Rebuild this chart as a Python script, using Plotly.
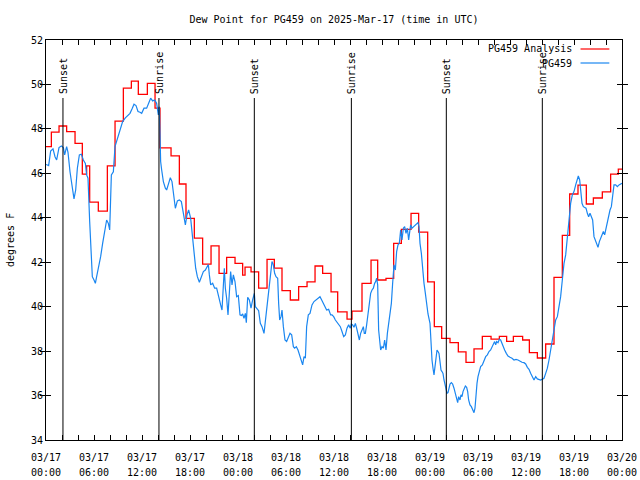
import plotly.graph_objects as go

# ---------------- data (hours since 03/17 00:00 UTC) ----------------
red_t = [0.0, 0.67, 1.63, 2.58, 3.63, 4.54, 5.08, 5.46, 6.54, 7.67, 8.63, 9.67, 10.67, 11.54,
         12.67, 13.63, 14.25, 15.63, 16.67, 17.5, 18.54, 19.58, 20.63, 21.63, 22.58, 23.63,
         24.58, 24.88, 25.63, 26.58, 27.63, 28.54, 29.5, 30.54, 31.58, 32.63, 33.63, 34.58,
         35.63, 36.46, 37.63, 38.25, 39.5, 40.63, 41.46, 42.5, 43.46, 44.42, 45.63, 46.58,
         47.71, 48.54, 49.46, 50.5, 51.54, 52.5, 53.5, 54.54, 55.63, 56.67, 57.58, 58.42,
         59.58, 60.42, 61.42, 62.46, 63.5, 64.54, 65.46, 66.5, 67.54, 68.42, 69.54, 70.58,
         71.54, 72.0]
red_v = [47.20, 47.85, 48.13, 47.88, 47.35, 45.96, 46.34, 44.70, 44.30, 46.34, 48.35, 49.83, 50.15, 49.55,
         50.05, 48.93, 47.15, 46.79, 45.52, 43.97, 43.08, 41.91, 42.74, 41.50, 42.22, 41.95,
         41.42, 41.78, 41.57, 40.83, 42.13, 41.73, 40.72, 40.30, 40.90, 41.12, 41.83, 41.50,
         40.67, 39.77, 39.44, 39.80, 41.05, 42.09, 41.20, 41.27, 42.85, 43.48, 44.20, 43.35,
         41.12, 39.10, 38.57, 38.38, 37.97, 37.49, 38.10, 38.66, 38.54, 38.66, 38.44, 38.66,
         38.50, 37.93, 37.69, 38.32, 41.32, 43.21, 45.07, 45.47, 44.62, 44.89, 45.17, 45.96,
         46.19, 46.19]

blue_t = [0.0, 0.08, 0.33, 0.58, 0.875, 1.125, 1.33, 1.625, 1.92, 2.17, 2.33, 2.58, 2.75, 3.0, 3.25,
          3.5, 3.71, 3.92, 4.17, 4.42, 4.67, 4.92, 5.08, 5.25, 5.46, 5.625, 5.79, 6.0, 6.17, 6.33,
          6.625, 6.83, 7.08, 7.33, 7.58, 7.79, 7.96, 8.17, 8.42, 8.625, 8.92, 9.25, 9.58, 9.92,
          10.25, 10.5, 10.79, 11.0, 11.25, 11.5, 11.75,
          11.96, 12.25, 12.58, 12.83, 13.08, 13.33, 13.58, 13.83, 14.04, 14.17, 14.25, 14.33,
          14.46, 14.67, 14.92, 15.08, 15.33, 15.54, 15.75, 15.92, 16.17, 16.42, 16.67, 16.92,
          17.17, 17.42, 17.625, 17.83, 18.08, 18.33, 18.54, 18.71, 18.92, 19.17, 19.42, 19.67,
          19.92, 20.08, 20.29, 20.42, 20.58, 20.83, 21.08, 21.33, 21.58, 21.83, 22.0, 22.17,
          22.29, 22.42, 22.58, 22.75, 22.92, 23.08, 23.25, 23.42, 23.625, 23.83, 24.04,
          24.25, 24.42, 24.58, 24.75, 24.92, 25.04, 25.21, 25.42, 25.625, 25.83, 26.04, 26.17,
          26.33, 26.58, 26.79, 27.0, 27.25, 27.5, 27.71, 27.92, 28.125, 28.25, 28.42, 28.58,
          28.75, 28.96, 29.08, 29.21, 29.375, 29.5, 29.67, 29.875, 30.08, 30.29, 30.5, 30.71,
          30.92, 31.08, 31.29, 31.5, 31.67, 31.875, 32.08, 32.25, 32.42, 32.58, 32.79, 33.0,
          33.25, 33.5, 33.75, 34.0, 34.25, 34.46, 34.67, 34.92, 35.08, 35.33, 35.58,
          35.75, 35.96, 36.17, 36.58, 36.79, 37.0, 37.21, 37.42, 37.625, 37.83, 38.04, 38.17,
          38.33, 38.5, 38.67, 38.83, 39.0, 39.17, 39.33, 39.5, 39.67, 39.79, 39.92, 40.08,
          40.25, 40.42, 40.58, 40.75, 40.92, 41.08, 41.21, 41.33, 41.46, 41.58, 41.71, 41.83,
          42.0, 42.17, 42.33, 42.5, 42.67, 42.83, 43.0, 43.17, 43.33, 43.5, 43.67, 43.83,
          44.0, 44.17, 44.33, 44.5, 44.67, 44.83, 45.0, 45.17, 45.33, 45.46, 45.58, 45.75,
          45.96, 46.17, 46.33, 46.5, 46.625, 46.75, 46.92, 47.08, 47.25, 47.42, 47.58,
          47.75, 48.0, 48.125, 48.25, 48.375, 48.5, 48.625, 48.75, 48.875, 49.0, 49.125, 49.25,
          49.375, 49.5, 49.625, 49.75, 49.875, 50.0, 50.125, 50.25, 50.375, 50.5, 50.67, 50.83,
          51.0, 51.17, 51.33, 51.46, 51.58, 51.75, 51.875, 52.0, 52.125, 52.25, 52.42, 52.58,
          52.71, 52.83, 53.0, 53.17, 53.33, 53.5, 53.625, 53.75, 53.875, 54.0, 54.17, 54.33,
          54.54, 54.75, 54.96, 55.17, 55.375, 55.58, 55.79, 55.96, 56.08, 56.21, 56.33, 56.5,
          56.67, 56.83, 57.0, 57.17, 57.33, 57.54, 57.75, 58.0, 58.25, 58.5, 58.75, 59.0,
          59.25, 59.5,
          59.75, 59.96, 60.17, 60.375, 60.58, 60.79, 61.0, 61.21, 61.42, 61.83, 62.25, 62.46,
          62.67, 62.875, 63.08, 63.29, 63.5, 63.71, 63.92, 64.125, 64.33, 64.54, 64.75, 64.96,
          65.17, 65.375, 65.58, 65.79, 66.0, 66.21, 66.42, 66.54, 66.71, 66.83, 67.0, 67.17,
          67.33, 67.5, 67.67, 67.83, 68.0, 68.17, 68.33, 68.5, 68.67, 68.83, 69.0, 69.17,
          69.33, 69.5, 69.67, 69.83, 70.0, 70.17, 70.33, 70.5, 70.67, 70.83, 71.0, 71.21,
          71.42, 71.625, 71.83, 72.0]
blue_v = [46.4, 46.38, 46.35, 47.0, 47.1, 46.75, 46.6, 47.16, 47.23, 47.16, 46.83, 47.2, 46.94, 46.07, 45.33,
          44.85, 45.25, 46.23, 46.83, 46.86, 46.6, 46.45, 45.93, 45.78, 43.83, 42.18, 41.35, 41.2, 41.05, 41.35,
          41.8, 42.25, 42.85, 43.45, 43.9, 43.75, 43.45, 45.93, 46.07, 47.2, 47.58, 47.95, 48.33, 48.5,
          48.63, 48.7, 48.93, 49.11, 49.05, 48.78, 48.75,
          48.7, 48.93, 48.93, 49.15, 49.38, 49.26, 49.3, 49.15, 48.63, 49.0, 47.13, 46.53,
          46.15, 45.63, 45.33, 45.25, 45.55, 45.8, 45.63, 45.03, 44.43, 44.76, 44.8, 44.73,
          44.28, 43.68, 44.13, 44.35, 43.98, 43.23, 42.33, 41.73, 41.35, 41.1, 41.35, 41.58,
          41.65, 41.76, 41.9, 41.43, 40.98, 41.05, 40.83, 40.83, 40.38, 40.08, 39.85, 41.2,
          41.73, 40.83, 40.38, 39.63, 40.53, 41.58, 40.98, 41.43, 41.13, 40.45, 40.5,
          39.63, 39.6, 39.67, 39.48, 39.7, 39.28, 40.42, 40.3, 39.93, 40.3, 40.6, 40.0,
          39.93, 39.82, 39.25, 39.1, 38.8, 39.55, 40.23, 40.9, 41.5, 42.03, 41.88, 41.5,
          41.35, 41.28, 40.15, 39.4, 39.55, 39.85, 39.1, 38.5, 38.43, 38.65, 38.8, 38.73,
          38.2, 38.13, 38.2, 38.05, 37.83, 37.6, 37.38, 37.75, 37.68, 39.1, 39.63, 39.7,
          40.08, 40.23, 40.3, 40.38, 40.45, 40.3, 40.15, 39.97, 39.85, 39.88, 39.63,
          39.63, 39.55, 39.4, 39.22, 39.1, 38.88, 38.65, 38.73, 39.03, 39.18, 39.03, 39.22,
          39.18, 39.07, 39.25, 39.03, 38.8, 38.5, 38.8, 38.95, 39.1, 38.8, 38.8, 39.18,
          39.63, 40.0, 40.6, 40.75, 40.83, 41.05, 41.13, 41.28, 40.98, 38.95, 38.5, 38.05,
          38.2, 38.13, 38.5, 38.05, 38.8, 39.25, 39.7, 40.15, 41.05, 41.88, 41.65, 42.48,
          42.78, 42.85, 43.45, 43.0, 43.53, 43.6, 43.3, 43.53, 43.0, 43.38, 43.68, 43.53,
          43.6, 43.63, 43.68, 43.78, 43.6, 42.85, 42.4, 41.65, 41.05, 40.6, 40.0,
          39.67, 39.25, 38.35, 37.6, 37.23, 36.93, 37.3, 37.75, 38.05, 37.98, 37.9, 37.53,
          37.15, 37.08, 37.0, 36.7, 36.48, 36.25, 36.1, 36.13, 36.4, 36.52, 36.58, 36.52,
          36.33, 36.03, 35.8, 35.68, 35.95, 35.8, 36.03, 35.95, 36.18, 36.33, 36.43, 36.37,
          36.18, 35.8, 35.58, 35.5, 35.35, 35.23, 35.43, 36.1, 36.55, 36.85, 37.08, 37.3,
          37.38, 37.6, 37.75, 37.83, 37.98, 38.05, 38.2, 38.35, 38.43, 38.28, 38.43, 38.38,
          38.53, 38.5, 38.32, 38.2, 38.05, 37.9, 37.78, 37.72, 37.68, 37.6, 37.63, 37.6,
          37.53, 37.5,
          37.48, 37.42, 37.27, 37.18, 37.0, 36.85, 36.7, 36.85, 36.75, 36.7, 36.78, 37.0,
          37.23, 37.6, 38.05, 38.38, 38.95, 39.4, 39.55, 40.0, 40.45, 41.2, 41.95, 42.33,
          43.15, 43.83, 44.65, 45.03, 45.18, 45.48, 45.7, 45.88, 45.7, 45.1, 44.65, 44.5,
          44.45, 44.43, 44.2, 44.05, 44.2, 44.05, 43.9, 43.15, 43.0, 42.85, 42.67, 42.93,
          43.08, 43.23, 43.38, 43.23, 43.53, 43.83, 44.05, 44.35, 44.5, 44.95, 45.48, 45.48,
          45.4, 45.48, 45.52, 45.55]

event_t = [2.12, 14.12, 26.04, 38.17, 50.04, 62.04]
event_lbl = ["Sunset", "Sunrise", "Sunset", "Sunrise", "Sunset", "Sunrise"]
event_top = 49.39
event_label_y = 49.48

xtick_vals = list(range(0, 73, 6))
xtick_date = ["03/17", "03/17", "03/17", "03/17", "03/18", "03/18", "03/18", "03/18",
              "03/19", "03/19", "03/19", "03/19", "03/20"]
xtick_time = ["00:00", "06:00", "12:00", "18:00", "00:00", "06:00", "12:00", "18:00",
              "00:00", "06:00", "12:00", "18:00", "00:00"]
ytick_vals = list(range(34, 53, 2))

series_names = ["PG459 Analysis", "PG459"]
series_colors = ["#ff0000", "#1a86f0"]

FONT = "DejaVu Sans Mono"
TF = dict(family=FONT, size=10, color="black")

fig = go.Figure()
fig.add_trace(go.Scatter(x=red_t, y=red_v, mode="lines", line=dict(color=series_colors[0], width=1.3, shape="hv"),
                         name=series_names[0]))
fig.add_trace(go.Scatter(x=blue_t, y=blue_v, mode="lines", line=dict(color=series_colors[1], width=1.2),
                         name=series_names[1]))
# invisible trace to activate the second x axis (time-of-day labels row)
fig.add_trace(go.Scatter(x=[0, 72], y=[34, 34], mode="lines", line=dict(width=0), xaxis="x2",
                         hoverinfo="skip", showlegend=False, opacity=0))

shapes = []
annotations = []
for t, lbl in zip(event_t, event_lbl):
    shapes.append(dict(type="line", xref="x", yref="y", x0=t, x1=t, y0=34, y1=event_top,
                       line=dict(color="black", width=1)))
    annotations.append(dict(x=t, y=event_label_y, xref="x", yref="y", text=lbl, textangle=-90,
                            showarrow=False, xanchor="center", yanchor="bottom", font=TF))

# custom legend (text left of sample line, gnuplot style)
leg_y = [0.9775, 0.9425]
for name, col, yy in zip(series_names, series_colors, leg_y):
    annotations.append(dict(x=0.9167, y=yy, xref="paper", yref="paper", text=name, showarrow=False,
                            xanchor="right", yanchor="middle", font=TF))
    shapes.append(dict(type="line", xref="paper", yref="paper", x0=0.928, x1=0.978, y0=yy, y1=yy,
                       line=dict(color=col, width=1.2)))

annotations.append(dict(x=-0.0625, y=0.5, xref="paper", yref="paper", text="degrees F", textangle=-90,
                        showarrow=False, xanchor="center", yanchor="middle", font=TF))

fig.update_layout(
    width=640, height=480,
    margin=dict(l=46, r=18, t=40, b=40, autoexpand=False),
    paper_bgcolor="white", plot_bgcolor="white",
    font=TF,
    showlegend=False,
    title=dict(text="Dew Point for PG459 on 2025-Mar-17 (time in UTC)", x=0.5, xref="paper",
               y=1 - 19 / 480, yref="container", yanchor="middle", xanchor="center",
               pad=dict(t=0, b=0, l=0, r=0), font=TF),
    shapes=shapes, annotations=annotations,
    xaxis=dict(range=[0, 72], tickmode="array", tickvals=xtick_vals, ticktext=xtick_date,
               automargin=False, ticklabelstandoff=8,
               ticks="inside", ticklen=5, tickcolor="black", showgrid=False, zeroline=False,
               showline=True, linecolor="black", linewidth=1, mirror="allticks",
               minor=dict(tickvals=list(range(0, 73, 2)), ticks="inside", ticklen=5,
                          tickcolor="black", showgrid=False),
               tickfont=TF),
    xaxis2=dict(range=[0, 72], overlaying="x", side="bottom", anchor="y",
                tickmode="array", tickvals=xtick_vals, ticktext=xtick_time,
                automargin=False, ticklabelstandoff=25, ticks="", showline=False,
                showgrid=False, zeroline=False, tickfont=TF),
    yaxis=dict(range=[34, 52], tickmode="array", tickvals=ytick_vals,
               automargin=False,
               ticks="inside", ticklen=5, tickcolor="black", showgrid=False, zeroline=False,
               showline=True, linecolor="black", linewidth=1, mirror="allticks",
               tickfont=TF),
)

fig.write_html("out.html", config={"displayModeBar": False},
               post_script="document.body.style.margin='0';")
